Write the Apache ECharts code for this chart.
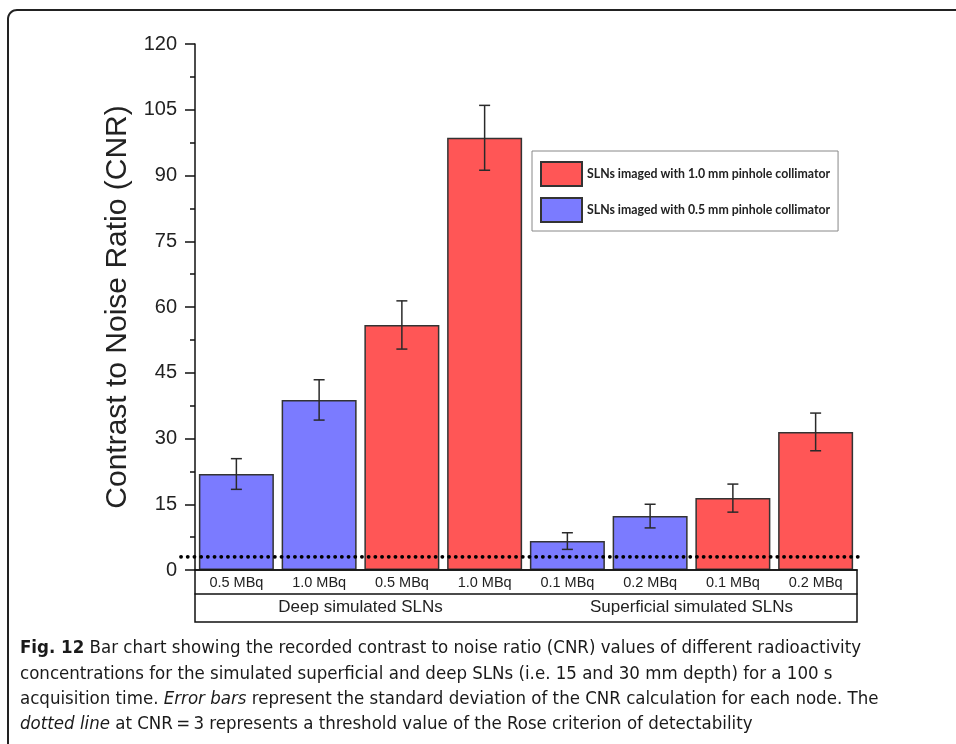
<!DOCTYPE html>
<html>
<head>
<meta charset="utf-8">
<script src="https://cdn.jsdelivr.net/npm/echarts@6/dist/echarts.min.js"></script>
<style>html,body{margin:0;padding:0;background:#fff;}#c{width:956px;height:744px;}</style>
</head>
<body>
<div id="c"></div>
<script>
const categories = ['0.5 MBq','1.0 MBq','0.5 MBq','1.0 MBq','0.1 MBq','0.2 MBq','0.1 MBq','0.2 MBq'];
const groups = ['Deep simulated SLNs','Superficial simulated SLNs'];
const cnr = [21.9, 38.8, 55.9, 98.6, 6.6, 12.3, 16.4, 31.5];
const cnrSD = [3.5, 4.6, 5.5, 7.4, 1.9, 2.7, 3.2, 4.3];
const collimator = ['0.5','0.5','1.0','1.0','0.5','0.5','1.0','1.0'];
const threshold = 3;
const yTicks = [0, 15, 30, 45, 60, 75, 90, 105, 120];
const seriesNames = ['SLNs imaged with 1.0 mm pinhole collimator','SLNs imaged with 0.5 mm pinhole collimator'];
const captionLines = [
  '{b|Fig. 12} Bar chart showing the recorded contrast to noise ratio (CNR) values of different radioactivity',
  'concentrations for the simulated superficial and deep SLNs (i.e. 15 and 30 mm depth) for a 100 s',
  'acquisition time. {i|Error bars} represent the standard deviation of the CNR calculation for each node. The',
  '{i|dotted line} at CNR\u2009=\u20093 represents a threshold value of the Rose criterion of detectability'
];

const G = {left: 195, top: 44, right: 857, bottom: 570};
const RED = '#ff5656', BLUE = '#7b7bff';

const redData = cnr.map((v, i) => collimator[i] === '1.0' ? v : '-');
const blueData = cnr.map((v, i) => collimator[i] === '0.5' ? v : '-');
const errData = cnr.map((v, i) => [i, v - cnrSD[i], v + cnrSD[i]]);

const chart = echarts.init(document.getElementById('c'), null, {renderer: 'canvas'});

const FF = '"Liberation Sans Narrow", "DejaVu Sans Condensed", sans-serif';
const FS = 18.5;
const captionGraphics = captionLines.map((t, k) => ({
  type: 'text', left: 20, top: 639 + k * 25.3, z: 10,
  style: {
    text: t, fill: '#1a1a1a', fontSize: FS, fontFamily: FF,
    rich: {
      b: {fontWeight: 'bold', fontSize: FS, fontFamily: FF, fill: '#1a1a1a'},
      i: {fontStyle: 'italic', fontSize: FS, fontFamily: FF, fill: '#1a1a1a'}
    }
  }
}));

// rounded top-left corner approximated by points on a quarter circle
const R = 9, cx = 8 + R, cy = 10 + R;
const framePts = [[8, 744], [8, cy]];
for (let a = 1; a < 9; a++) {
  const t = Math.PI + (a / 9) * (Math.PI / 2);
  framePts.push([cx + R * Math.cos(t), cy + R * Math.sin(t)]);
}
framePts.push([cx, 10], [956, 10]);

chart.setOption({
  animation: false,
  backgroundColor: '#fff',
  grid: {left: G.left, top: G.top, width: G.right - G.left, height: G.bottom - G.top, containLabel: false},
  legend: {
    data: seriesNames, orient: 'vertical', left: 532, top: 151,
    itemWidth: 41, itemHeight: 24, itemGap: 10,
    padding: [10, 8, 8, 8],
    borderColor: '#888', borderWidth: 1,
    backgroundColor: '#fff',
    icon: 'rect',
    selectedMode: false,
    textStyle: {fontFamily: 'Lato, sans-serif', fontWeight: 'bold', fontSize: 12.3, color: '#222'}
  },
  xAxis: [{
    type: 'category', data: categories, position: 'bottom',
    axisLine: {show: true, lineStyle: {color: '#111', width: 1.5}},
    axisTick: {show: false},
    axisLabel: {margin: 5, fontSize: 14.5, fontFamily: '"Liberation Sans", Arial, sans-serif', color: '#222', interval: 0}
  }, {
    type: 'category', data: groups, position: 'bottom', offset: 24,
    axisLine: {show: true, lineStyle: {color: '#111', width: 1.5}},
    axisTick: {show: false},
    axisLabel: {margin: 5, fontSize: 17, fontFamily: '"Liberation Sans", Arial, sans-serif', color: '#222', interval: 0}
  }],
  yAxis: {
    type: 'value', min: yTicks[0], max: yTicks[yTicks.length - 1], interval: yTicks[1] - yTicks[0],
    name: 'Contrast to Noise Ratio (CNR)', nameLocation: 'middle', nameGap: 56,
    nameTextStyle: {fontSize: 30, fontFamily: '"Liberation Sans", Arial, sans-serif', color: '#222'},
    axisLine: {show: true, lineStyle: {color: '#111', width: 1.5}},
    axisTick: {show: true, length: 10, inside: false, lineStyle: {color: '#111', width: 1.5}},
    minorTick: {show: true, splitNumber: 2, length: 5, lineStyle: {color: '#111', width: 1.5}},
    splitLine: {show: false},
    axisLabel: {margin: 18, fontSize: 20, fontFamily: '"Liberation Sans", Arial, sans-serif', color: '#222'}
  },
  series: [{
    name: seriesNames[0], type: 'bar', data: redData, barWidth: 75, barGap: '-100%',
    itemStyle: {color: RED, borderColor: '#333', borderWidth: 1.5}
  }, {
    name: seriesNames[1], type: 'bar', data: blueData, barWidth: 75, barGap: '-100%',
    itemStyle: {color: BLUE, borderColor: '#333', borderWidth: 1.5}
  }, {
    name: 'err', type: 'custom', data: errData, z: 5,
    encode: {x: 0, y: [1, 2]},
    renderItem: function (params, api) {
      const x = api.value(0);
      const lo = api.coord([x, api.value(1)]);
      const hi = api.coord([x, api.value(2)]);
      const c = 5.5;
      const st = {stroke: '#2a2a2a', lineWidth: 1.5};
      return {type: 'group', children: [
        {type: 'line', shape: {x1: lo[0], y1: lo[1], x2: hi[0], y2: hi[1]}, style: st},
        {type: 'line', shape: {x1: lo[0] - c, y1: lo[1], x2: lo[0] + c, y2: lo[1]}, style: st},
        {type: 'line', shape: {x1: hi[0] - c, y1: hi[1], x2: hi[0] + c, y2: hi[1]}, style: st}
      ]};
    }
  }, {
    name: 'threshold', type: 'custom', data: [[0, threshold]], z: 6, clip: false,
    encode: {x: 0, y: 1},
    renderItem: function (params, api) {
      const p = api.coord([0, api.value(1)]);
      const cs = params.coordSys;
      return {type: 'line', shape: {x1: cs.x - 14, y1: p[1], x2: cs.x + cs.width + 2, y2: p[1]},
        style: {stroke: '#000', lineWidth: 3.8, lineDash: [0.1, 6.6], lineCap: 'round'}};
    }
  }],
  graphic: [
    {type: 'rect', shape: {x: G.left, y: G.bottom, width: G.right - G.left, height: 52}, style: {fill: 'none', stroke: '#111', lineWidth: 1.5}, z: 10},
    {type: 'polyline', shape: {points: framePts}, style: {fill: 'none', stroke: '#222', lineWidth: 2}, z: 10}
  ].concat(captionGraphics)
});
</script>
</body>
</html>
